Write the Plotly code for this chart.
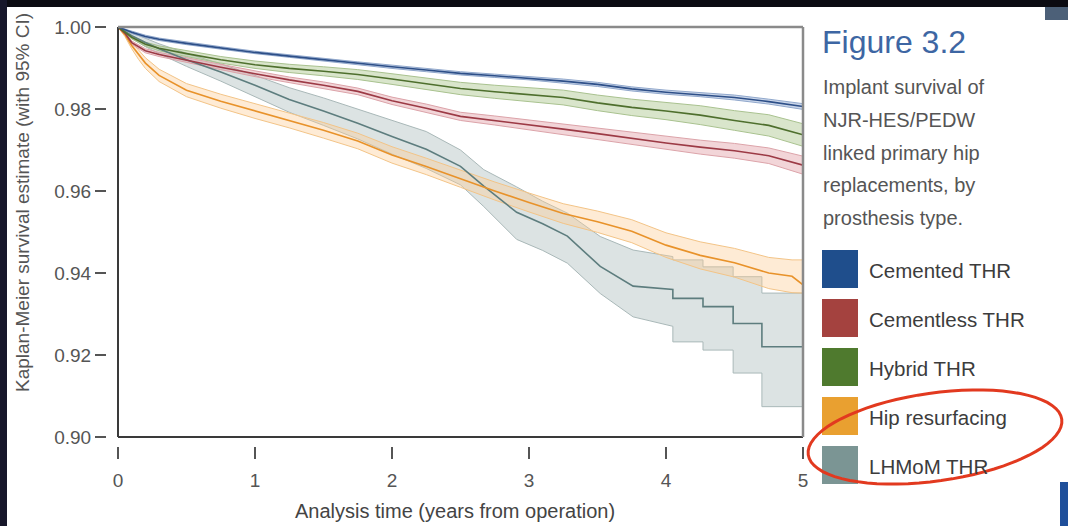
import math
import plotly.graph_objects as go

# ---------------- data ----------------
series_names = ["Cemented THR", "Cementless THR", "Hybrid THR", "Hip resurfacing", "LHMoM THR"]

t_cem = [0, 0.05, 0.1, 0.2, 0.3, 0.5, 0.75, 1.0, 1.25, 1.5, 1.75, 2.0, 2.25, 2.5, 2.75, 3.0, 3.25, 3.5, 3.75, 4.0, 4.25, 4.5, 4.75, 5.0]
est_cem = [1.0, 0.9993, 0.9987, 0.9977, 0.9970, 0.9960, 0.9949, 0.9938, 0.9929, 0.9920, 0.9911, 0.9903, 0.9895, 0.9887, 0.9881, 0.9875, 0.9868, 0.9860, 0.9849, 0.9841, 0.9835, 0.9828, 0.9818, 0.9806]
lo_cem = [1.0, 0.9991, 0.9984, 0.9974, 0.9967, 0.9957, 0.9946, 0.9935, 0.9926, 0.9917, 0.9907, 0.9899, 0.9891, 0.9883, 0.9877, 0.9871, 0.9863, 0.9855, 0.9844, 0.9836, 0.9830, 0.9822, 0.9812, 0.9799]
hi_cem = [1.0, 0.9995, 0.9990, 0.9980, 0.9973, 0.9963, 0.9952, 0.9941, 0.9932, 0.9923, 0.9915, 0.9907, 0.9899, 0.9891, 0.9885, 0.9879, 0.9873, 0.9865, 0.9854, 0.9846, 0.9840, 0.9834, 0.9824, 0.9813]

t_cls = [0, 0.05, 0.1, 0.2, 0.3, 0.5, 0.75, 1.0, 1.25, 1.5, 1.75, 2.0, 2.25, 2.5, 2.75, 3.0, 3.25, 3.5, 3.75, 4.0, 4.25, 4.5, 4.75, 5.0]
est_cls = [1.0, 0.9985, 0.9962, 0.9942, 0.9933, 0.9919, 0.9902, 0.9886, 0.9871, 0.9858, 0.9843, 0.9820, 0.9802, 0.9782, 0.9772, 0.9761, 0.9751, 0.9740, 0.9728, 0.9717, 0.9707, 0.9698, 0.9686, 0.9663]
lo_cls = [1.0, 0.9982, 0.9958, 0.9937, 0.9928, 0.9913, 0.9896, 0.9879, 0.9864, 0.9850, 0.9835, 0.9811, 0.9792, 0.9772, 0.9761, 0.9749, 0.9738, 0.9726, 0.9713, 0.9701, 0.9690, 0.9680, 0.9667, 0.9641]
hi_cls = [1.0, 0.9988, 0.9966, 0.9947, 0.9938, 0.9925, 0.9908, 0.9893, 0.9878, 0.9866, 0.9851, 0.9829, 0.9812, 0.9792, 0.9783, 0.9773, 0.9764, 0.9754, 0.9743, 0.9733, 0.9724, 0.9716, 0.9705, 0.9685]

t_hyb = [0, 0.05, 0.1, 0.2, 0.3, 0.5, 0.75, 1.0, 1.25, 1.5, 1.75, 2.0, 2.25, 2.5, 2.75, 3.0, 3.25, 3.5, 3.75, 4.0, 4.25, 4.5, 4.75, 5.0]
est_hyb = [1.0, 0.9988, 0.9975, 0.9958, 0.9948, 0.9935, 0.9920, 0.9908, 0.9899, 0.9892, 0.9884, 0.9873, 0.9861, 0.9850, 0.9842, 0.9835, 0.9828, 0.9815, 0.9804, 0.9795, 0.9785, 0.9772, 0.9760, 0.9737]
lo_hyb = [1.0, 0.9985, 0.9971, 0.9953, 0.9942, 0.9928, 0.9912, 0.9899, 0.9889, 0.9881, 0.9872, 0.9860, 0.9847, 0.9835, 0.9826, 0.9818, 0.9810, 0.9796, 0.9784, 0.9774, 0.9762, 0.9748, 0.9734, 0.9709]
hi_hyb = [1.0, 0.9991, 0.9979, 0.9963, 0.9954, 0.9942, 0.9928, 0.9917, 0.9909, 0.9903, 0.9896, 0.9886, 0.9875, 0.9865, 0.9858, 0.9852, 0.9846, 0.9834, 0.9824, 0.9816, 0.9808, 0.9796, 0.9786, 0.9764]

t_hrs = [0, 0.05, 0.1, 0.15, 0.2, 0.3, 0.5, 0.75, 1.0, 1.25, 1.5, 1.75, 2.0, 2.25, 2.5, 2.75, 3.0, 3.25, 3.5, 3.75, 4.0, 4.25, 4.5, 4.75, 4.92, 5.0]
est_hrs = [1.0, 0.9982, 0.9955, 0.9932, 0.9912, 0.9882, 0.9846, 0.9819, 0.9795, 0.9772, 0.9748, 0.9722, 0.9688, 0.9660, 0.9630, 0.9600, 0.9572, 0.9545, 0.9525, 0.9502, 0.9468, 0.9443, 0.9425, 0.9400, 0.9392, 0.9371]
lo_hrs = [1.0, 0.9977, 0.9947, 0.9921, 0.9899, 0.9867, 0.9830, 0.9802, 0.9777, 0.9754, 0.9729, 0.9703, 0.9668, 0.9640, 0.9609, 0.9578, 0.9549, 0.9521, 0.9499, 0.9474, 0.9438, 0.9410, 0.9390, 0.9362, 0.9352, 0.9351]
hi_hrs = [1.0, 0.9987, 0.9963, 0.9943, 0.9925, 0.9897, 0.9862, 0.9836, 0.9813, 0.9790, 0.9767, 0.9741, 0.9708, 0.9680, 0.9651, 0.9622, 0.9595, 0.9569, 0.9551, 0.9530, 0.9498, 0.9476, 0.9460, 0.9438, 0.9432, 0.9432]

t_lhm = [0, 0.05, 0.1, 0.2, 0.3, 0.5, 0.75, 1.0, 1.25, 1.5, 1.75, 2.0, 2.25, 2.5, 2.67, 2.91, 3.1, 3.28, 3.52, 3.76, 4.05, 4.05, 4.27, 4.27, 4.49, 4.49, 4.70, 4.70, 5.0]
est_lhm = [1.0, 0.9990, 0.9979, 0.9962, 0.9947, 0.9920, 0.9890, 0.9858, 0.9823, 0.9795, 0.9765, 0.9733, 0.9702, 0.9660, 0.9612, 0.9548, 0.9520, 0.9490, 0.9416, 0.9368, 0.9360, 0.9338, 0.9338, 0.9318, 0.9318, 0.9277, 0.9277, 0.9220, 0.9220]
lo_lhm = [1.0, 0.9986, 0.9972, 0.9952, 0.9935, 0.9904, 0.9868, 0.9830, 0.9792, 0.9760, 0.9727, 0.9690, 0.9655, 0.9615, 0.9562, 0.9482, 0.9455, 0.9424, 0.9350, 0.9293, 0.9270, 0.9232, 0.9232, 0.9212, 0.9212, 0.9156, 0.9156, 0.9074, 0.9074]
hi_lhm = [1.0, 0.9994, 0.9986, 0.9972, 0.9959, 0.9936, 0.9910, 0.9882, 0.9852, 0.9827, 0.9800, 0.9772, 0.9745, 0.9700, 0.9652, 0.9610, 0.9575, 0.9546, 0.9489, 0.9456, 0.9440, 0.9432, 0.9432, 0.9415, 0.9415, 0.9391, 0.9391, 0.9351, 0.9351]

x_ticks = [0, 1, 2, 3, 4, 5]
y_ticks = [0.90, 0.92, 0.94, 0.96, 0.98, 1.00]

line_colors = ["#2d4f88", "#9c3a45", "#4e6f2d", "#e8922a", "#5d7d7e"]
band_fills = ["rgba(120,150,200,0.40)", "rgba(222,150,158,0.40)", "rgba(170,198,140,0.45)",
              "rgba(252,205,150,0.40)", "rgba(196,208,208,0.60)"]
band_edges = ["#91a8cc", "#dca3a9", "#a9c28f", "#f3c487", "#a9b8b8"]
legend_colors = ["#1f4e8c", "#a4423f", "#4f7a2e", "#e9a030", "#7b9594"]

FONT = "Liberation Sans, Arial, sans-serif"

# ---------------- geometry helpers (page pixels -> paper) ----------------
W, H = 1068, 526
ML, MR, MT, MB = 106, 265, 27, 80
PW, PH = W - ML - MR, H - MT - MB


def px(x):
    return (x - ML) / PW


def py(y):
    return (H - MB - y) / PH


fig = go.Figure()

data = [
    (t_cem, est_cem, lo_cem, hi_cem),
    (t_cls, est_cls, lo_cls, hi_cls),
    (t_hyb, est_hyb, lo_hyb, hi_hyb),
    (t_hrs, est_hrs, lo_hrs, hi_hrs),
    (t_lhm, est_lhm, lo_lhm, hi_lhm),
]

band_order = [4, 3, 1, 2, 0]
for i in band_order:
    t, e, lo, hi = data[i]
    fig.add_trace(go.Scatter(x=t, y=lo, mode="lines", line=dict(color=band_edges[i], width=1),
                             showlegend=False, hoverinfo="skip"))
    fig.add_trace(go.Scatter(x=t, y=hi, mode="lines", line=dict(color=band_edges[i], width=1),
                             fill="tonexty", fillcolor=band_fills[i], showlegend=False, hoverinfo="skip"))
for i in band_order:
    t, e, lo, hi = data[i]
    fig.add_trace(go.Scatter(x=t, y=e, mode="lines", name=series_names[i],
                             line=dict(color=line_colors[i], width=1.6), showlegend=False))

fig.update_layout(
    width=W, height=H,
    margin=dict(l=ML, r=MR, t=MT, b=MB, pad=0),
    paper_bgcolor="white", plot_bgcolor="white",
    showlegend=False,
    xaxis=dict(domain=[px(118), 1.0], range=[0, 5], anchor="free", position=0,
               tickvals=x_ticks, ticktext=[str(v) for v in x_ticks],
               ticks="outside", ticklen=12, tickwidth=2, tickcolor="#555",
               ticklabelstandoff=5,
               showgrid=False, zeroline=False, showline=False,
               tickfont=dict(family=FONT, size=19, color="#555")),
    yaxis=dict(domain=[py(437), 1.0], range=[0.90, 1.00], anchor="free", position=0,
               tickvals=y_ticks, ticktext=["%.2f" % v for v in y_ticks],
               ticks="outside", ticklen=11, tickwidth=2, tickcolor="#555",
               showgrid=False, zeroline=False, showline=False,
               tickfont=dict(family=FONT, size=19, color="#555")),
)

shapes = []
# plot frame
shapes.append(dict(type="line", xref="paper", yref="paper", x0=px(118), x1=px(118), y0=py(437), y1=1,
                   line=dict(color="#3a3a3a", width=2)))
shapes.append(dict(type="line", xref="paper", yref="paper", x0=px(118), x1=1, y0=py(437), y1=py(437),
                   line=dict(color="#3a3a3a", width=2)))
shapes.append(dict(type="line", xref="paper", yref="paper", x0=px(118), x1=1, y0=1, y1=1,
                   line=dict(color="#8a8a8a", width=2.5)))
shapes.append(dict(type="line", xref="paper", yref="paper", x0=1, x1=1, y0=py(437), y1=1,
                   line=dict(color="#8a8a8a", width=2.5)))
# dark page edges
shapes.append(dict(type="rect", xref="paper", yref="paper", x0=px(0), x1=px(W), y0=py(7), y1=py(0),
                   fillcolor="#0b0b12", line=dict(width=0)))
shapes.append(dict(type="rect", xref="paper", yref="paper", x0=px(0), x1=px(7), y0=py(H), y1=py(0),
                   fillcolor="#17172a", line=dict(width=0)))
shapes.append(dict(type="rect", xref="paper", yref="paper", x0=px(1045), x1=px(W), y0=py(20), y1=py(7),
                   fillcolor="#4c6078", line=dict(width=0)))
shapes.append(dict(type="rect", xref="paper", yref="paper", x0=px(1060), x1=px(W), y0=py(H), y1=py(482),
                   fillcolor="#1f4f9a", line=dict(width=0)))

# legend squares
for k in range(5):
    top = 250 + 49 * k
    shapes.append(dict(type="rect", xref="paper", yref="paper", x0=px(822), x1=px(858),
                       y0=py(top + 38), y1=py(top), fillcolor=legend_colors[k], line=dict(width=0)))

# red hand-drawn ellipse
cx, cy, rx, ry, phi = 935, 437, 128, 44, math.radians(-8)
pts = []
for j in range(73):
    th = 2 * math.pi * j / 72
    xx = cx + rx * math.cos(th) * math.cos(phi) - ry * math.sin(th) * math.sin(phi)
    yy = cy + rx * math.cos(th) * math.sin(phi) + ry * math.sin(th) * math.cos(phi)
    pts.append((px(xx), py(yy)))
path = "M " + " L ".join("%.5f,%.5f" % p for p in pts) + " Z"
shapes.append(dict(type="path", xref="paper", yref="paper", path=path,
                   line=dict(color="#e2391f", width=3)))

fig.update_layout(shapes=shapes)

ann = []
ann.append(dict(text="Figure 3.2", x=px(820), y=py(42), xref="paper", yref="paper",
                xanchor="left", yanchor="middle", showarrow=False,
                font=dict(family=FONT, size=32, color="#3d66a3")))
desc = ["Implant survival of", "NJR-HES/PEDW", "linked primary hip", "replacements, by", "prosthesis type."]
for k, s in enumerate(desc):
    ann.append(dict(text=s, x=px(821), y=py(87 + 32.8 * k), xref="paper", yref="paper",
                    xanchor="left", yanchor="middle", showarrow=False,
                    font=dict(family=FONT, size=20, color="#555")))
for k, s in enumerate(series_names):
    ann.append(dict(text=s, x=px(867), y=py(270 + 49 * k), xref="paper", yref="paper",
                    xanchor="left", yanchor="middle", showarrow=False,
                    font=dict(family=FONT, size=20.5, color="#3c3c3c")))
ann.append(dict(text="Kaplan-Meier survival estimate (with 95% CI)", x=px(23), y=py(203),
                xref="paper", yref="paper", xanchor="center", yanchor="middle", textangle=-90,
                showarrow=False, font=dict(family=FONT, size=19, color="#555")))
ann.append(dict(text="Analysis time (years from operation)", x=px(455), y=py(511),
                xref="paper", yref="paper", xanchor="center", yanchor="middle",
                showarrow=False, font=dict(family=FONT, size=20, color="#444")))
fig.update_layout(annotations=ann)

fig.write_html("out.html")
